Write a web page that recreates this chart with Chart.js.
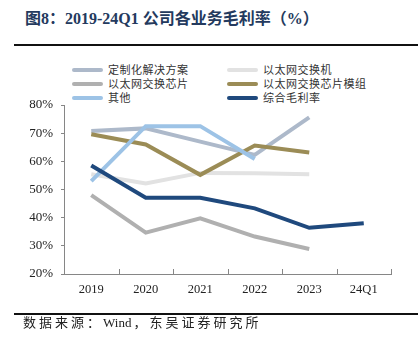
<!DOCTYPE html>
<html>
<head>
<meta charset="utf-8">
<script src="https://cdn.jsdelivr.net/npm/chart.js@4"></script>
<style>
  body { margin: 0; background: #fff; }
  #wrap { position: relative; width: 418px; height: 353px; overflow: hidden; }
  #chart { position: absolute; left: 0; top: 0; }
  .title { position: absolute; left: 25px; top: 5px; font: bold 16px "Liberation Serif", "Noto Sans CJK SC"; color: #243a5e; white-space: nowrap; }
  .rule { position: absolute; left: 14px; right: 0; height: 2px; background: #111; }
  .src { position: absolute; left: 23px; top: 312px; font: 13px "Liberation Serif", "Noto Sans CJK SC"; color: #222; letter-spacing: 3px; white-space: nowrap; }
  .src span { letter-spacing: 0; margin-right: 2px; }
  .leg { position: absolute; font: 11px "Noto Sans CJK SC"; color: #333; letter-spacing: 0.5px; white-space: nowrap; line-height: 14px; }
  .leg i { display: inline-block; width: 31px; height: 4px; border-radius: 2px; vertical-align: middle; margin-right: 5px; margin-top: -2px; }
</style>
</head>
<body>
<div id="wrap">
  <div class="title">图8：2019-24Q1 公司各业务毛利率（%）</div>
  <div class="rule" style="top:44px"></div>
  <div id="legend"></div>
  <canvas id="chart" width="418" height="353"></canvas>
  <div class="rule" style="top:313px"></div>
  <div class="src">数据来源：<span>Wind</span>，东吴证券研究所</div>
</div>
<script>
const categories = ['2019', '2020', '2021', '2022', '2023', '24Q1'];
const seriesNames = ['定制化解决方案', '以太网交换机', '以太网交换芯片', '以太网交换芯片模组', '其他', '综合毛利率'];
const seriesColors = ['#adb9ca', '#e2e2e2', '#b0b0b0', '#9b8c56', '#9dc3e6', '#1f497d'];

const customSolution = [70.8, 71.7, 67.0, 62.3, 75.6, null];
const switchBox = [55.4, 52.1, 55.9, 55.8, 55.4, null];
const switchChip = [48.0, 34.7, 39.8, 33.3, 28.9, null];
const chipModule = [69.6, 66.0, 55.2, 65.6, 63.1, null];
const others = [53.0, 72.5, 72.5, 60.8, null, null];
const overall = [58.5, 47.1, 47.1, 43.3, 36.4, 38.0];

const yTicks = [20, 30, 40, 50, 60, 70, 80];

const seriesData = [customSolution, switchBox, switchChip, chipModule, others, overall];

// legend, two columns
const legend = document.getElementById('legend');
seriesNames.forEach((name, i) => {
  const d = document.createElement('div');
  d.className = 'leg';
  d.style.left = (i % 2 === 0 ? 72 : 227) + 'px';
  d.style.top = (62 + Math.floor(i / 2) * 14) + 'px';
  d.innerHTML = '<i style="background:' + seriesColors[i] + '"></i>' + name;
  legend.appendChild(d);
});

// small upward ticks on the x axis at category borders
const xTickMarks = {
  id: 'xTickMarks',
  afterDraw(chart) {
    const xs = chart.scales.x;
    const ctx = chart.ctx;
    const step = (xs.right - xs.left) / categories.length;
    ctx.save();
    ctx.strokeStyle = '#868686';
    ctx.lineWidth = 1;
    ctx.beginPath();
    for (let i = 0; i <= categories.length; i++) {
      const x = Math.round(xs.left + i * step) + 0.5;
      ctx.moveTo(x, xs.top);
      ctx.lineTo(x, xs.top - 5);
    }
    ctx.stroke();
    ctx.restore();
  }
};

new Chart(document.getElementById('chart'), {
  type: 'line',
  data: {
    labels: categories,
    datasets: seriesData.map((d, i) => ({
      label: seriesNames[i],
      data: d,
      borderColor: seriesColors[i],
      backgroundColor: seriesColors[i],
      borderWidth: 4,
      pointRadius: 0,
      tension: 0,
      spanGaps: false,
      order: seriesData.length - i
    }))
  },
  options: {
    responsive: false,
    animation: false,
    layout: { padding: { top: 105, right: 27, left: 0, bottom: 0 } },
    plugins: { legend: { display: false }, tooltip: { enabled: false } },
    scales: {
      x: {
        offset: true,
        afterFit: s => { s.height = 79; },
        grid: { display: true, drawOnChartArea: false, drawTicks: false, color: '#868686' },
        border: { color: '#868686', width: 1 },
        ticks: { color: '#222', padding: 8, font: { family: 'Liberation Serif', size: 12.5 } }
      },
      y: {
        min: 20,
        max: 80,
        afterFit: s => { s.width = 64; },
        afterBuildTicks: s => { s.ticks = yTicks.map(v => ({ value: v })); },
        grid: { drawOnChartArea: false, tickLength: 3, color: '#868686' },
        border: { color: '#868686', width: 1 },
        ticks: {
          color: '#222',
          padding: 8,
          font: { family: 'Liberation Serif', size: 13 },
          callback: v => v + '%'
        }
      }
    }
  },
  plugins: [xTickMarks]
});
</script>
</body>
</html>
